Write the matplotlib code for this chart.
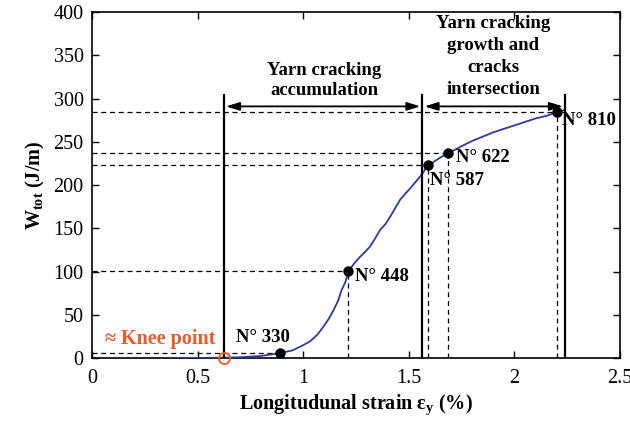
import matplotlib
matplotlib.use("Agg")
import matplotlib.pyplot as plt
import numpy as np

plt.rcParams['font.family'] = ['Liberation Serif', 'DejaVu Serif']
plt.rcParams['mathtext.default'] = 'regular'

# Curve data (strain %, W_tot J/m)
strain = [0.40, 0.50, 0.60, 0.70, 0.80, 0.89, 0.95, 1.00, 1.03, 1.048, 1.07, 1.095, 1.12, 1.143,
          1.165, 1.182, 1.20, 1.214, 1.24, 1.269, 1.29, 1.316, 1.34, 1.364, 1.39, 1.411, 1.435,
          1.458, 1.48, 1.506, 1.53, 1.553, 1.57, 1.584, 1.60, 1.625, 1.65, 1.686, 1.72, 1.75,
          1.80, 1.85, 1.90, 1.95, 2.00, 2.05, 2.10, 2.15, 2.20, 2.24]
wtot = [0.0, 0.2, 0.5, 1.0, 2.5, 5.8, 9.0, 15.0, 19.0, 22.7, 28.0, 36.0, 45.0, 55.0,
        66.0, 78.6, 88.0, 100.0, 109.0, 117.0, 122.0, 128.7, 138.0, 148.0, 155.0, 163.0, 173.0,
        182.7, 189.0, 196.0, 203.0, 209.6, 215.0, 221.0, 224.0, 228.0, 232.0, 237.0, 241.0, 245.0,
        251.0, 256.0, 261.0, 265.0, 269.0, 273.0, 277.0, 280.0, 284.0, 287.0]

# Marked points
pt_labels = ['N° 330', 'N° 448', 'N° 587', 'N° 622', 'N° 810']
pt_x = [0.89, 1.214, 1.591, 1.686, 2.20]
pt_y = [5.8, 101.0, 223.0, 237.0, 284.0]

knee_x, knee_y = 0.625, 0.0
phase_x = [0.625, 1.565, 2.24]
phase_top = 304
arrow_y = 291

fig = plt.figure(figsize=(6.3, 4.32), dpi=100)
ax = fig.add_axes([0.146, 0.171, 0.838, 0.801])

ax.plot(strain, wtot, color='#2d3a9c', lw=1.3, zorder=3)

# dashed guides
for x, y in zip(pt_x, pt_y):
    ax.plot([0, x], [y, y], ls=(0, (4, 3)), color='black', lw=0.9, zorder=2)
for x, y in zip(pt_x[1:], pt_y[1:]):
    ax.plot([x, x], [0, y], ls=(0, (4, 3)), color='black', lw=0.9, zorder=2)

ax.plot(pt_x, pt_y, 'o', color='black', ms=6.5, zorder=5)

# phase lines
for x in phase_x:
    ax.plot([x, x], [0, phase_top], color='black', lw=1.6, zorder=4)

for a, b in [(phase_x[0], phase_x[1]), (phase_x[1], phase_x[2])]:
    ax.annotate('', xy=(b - 0.01, arrow_y), xytext=(a + 0.01, arrow_y),
                arrowprops=dict(arrowstyle='<|-|>,head_length=0.8,head_width=0.25',
                                color='black', lw=1.3, shrinkA=0, shrinkB=0))

ax.plot([knee_x], [knee_y], 'o', mfc='none', mec='#f05a28', ms=8, mew=1.3, zorder=6, clip_on=False)
ax.text(0.06, 11, '≈ Knee point', color='#f05a28', fontsize=14.5, fontweight='bold',
        ha='left', va='bottom')

# point labels
positions = [(0.81, 14, 'center', 'bottom'), (1.245, 94, 'left', 'center'),
             (1.60, 205, 'left', 'center'), (1.725, 232, 'left', 'center'),
             (2.225, 275, 'left', 'center')]
for lab, (tx, ty, ha, va) in zip(pt_labels, positions):
    ax.text(tx, ty, lab, fontsize=13.5, fontweight='bold', ha=ha, va=va)

ax.text(1.10, 300, 'Yarn cracking\naccumulation', fontsize=13.5, fontweight='bold',
        ha='center', va='bottom', linespacing=1.2)
ax.text(1.90, 301, 'Yarn cracking\ngrowth and\ncracks\nintersection', fontsize=13.5,
        fontweight='bold', ha='center', va='bottom', linespacing=1.38)

ax.set_xlim(0, 2.5)
ax.set_ylim(0, 400)
ax.set_xticks([0, 0.5, 1, 1.5, 2, 2.5])
ax.set_xticklabels(['0', '0.5', '1', '1.5', '2', '2.5'])
ax.set_yticks(range(0, 401, 50))
ax.tick_params(direction='in', top=True, right=True, labelsize=14.5, length=5, width=1)
ax.tick_params(axis='x', pad=8)
ax.tick_params(axis='y', pad=6)
for s in ax.spines.values():
    s.set_linewidth(1.2)

ax.set_xlabel('Longitudunal strain ε$_y$ (%)', fontsize=14.5, fontweight='bold', labelpad=3)
ax.set_ylabel('W$_{tot}$ (J/m)', fontsize=14.5, fontweight='bold', labelpad=5)

fig.savefig('out.png', dpi=100)
